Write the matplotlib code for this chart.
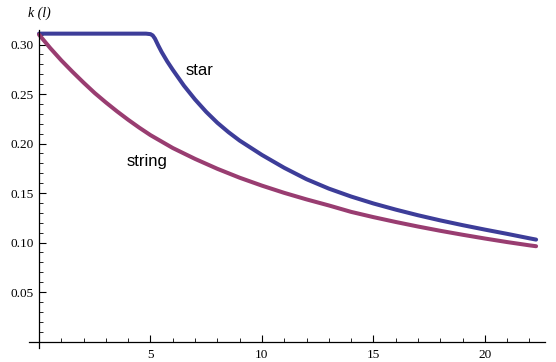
import numpy as np
import matplotlib.pyplot as plt
from matplotlib.ticker import FixedLocator

# valores (l, k)
l_star = [0, 1, 2, 3, 4, 4.8, 5.0, 5.1, 5.2, 5.35, 5.5, 5.75, 6.0, 6.5, 7.0, 7.5, 8.0,
          8.5, 9.0, 10.0, 11.0, 12.0, 13.0, 14.0, 15.0, 16.0, 17.0, 18.0, 19.0, 20.0,
          21.0, 22.0, 22.3]
k_star = [0.311, 0.311, 0.311, 0.311, 0.311, 0.311, 0.3105, 0.3092, 0.306, 0.299, 0.2925,
          0.283, 0.2745, 0.2585, 0.2445, 0.2320, 0.2210, 0.2115, 0.2030, 0.1885, 0.1755,
          0.1640, 0.1545, 0.1465, 0.1395, 0.1333, 0.1276, 0.1224, 0.1176, 0.1131, 0.1088,
          0.1043, 0.1030]

l_string = [0, 0.5, 1, 1.5, 2, 2.5, 3, 3.5, 4, 4.5, 5, 6, 7, 8, 9, 10, 11, 12, 13, 14,
            15, 16, 17, 18, 19, 20, 21, 22, 22.3]
k_string = [0.310, 0.2965, 0.284, 0.2725, 0.2615, 0.251, 0.2415, 0.2325, 0.224, 0.216,
            0.2085, 0.1955, 0.1845, 0.1745, 0.1655, 0.1575, 0.1502, 0.1436, 0.1375, 0.1310,
            0.1257, 0.1208, 0.1162, 0.1119, 0.1079, 0.1041, 0.1005, 0.0972, 0.0963]

c_star = "#3d3d99"
c_string = "#993d71"

fig = plt.figure(figsize=(5.56, 3.62), dpi=100)
ax = fig.add_axes([29/556, 0.040, (545-29)/556, 0.878])

ax.plot(l_star, k_star, color=c_star, lw=2.9, solid_capstyle="round", solid_joinstyle="round")
ax.plot(l_string, k_string, color=c_string, lw=2.9, solid_capstyle="round", solid_joinstyle="round")

ax.set_xlim(-0.45, 22.7)
ax.set_ylim(-0.006, 0.315)

# eixos estilo Mathematica, cruzando na origem
ax.spines["left"].set_position(("data", 0))
ax.spines["bottom"].set_position(("data", 0))
ax.spines["top"].set_visible(False)
ax.spines["right"].set_visible(False)
for s in ["left", "bottom"]:
    ax.spines[s].set_linewidth(0.9)

ax.xaxis.set_major_locator(FixedLocator([5, 10, 15, 20]))
ax.xaxis.set_minor_locator(FixedLocator([i for i in range(1, 23) if i % 5]))
ax.yaxis.set_major_locator(FixedLocator([0.05, 0.10, 0.15, 0.20, 0.25, 0.30]))
ax.yaxis.set_minor_locator(FixedLocator([i / 100 for i in range(1, 32) if i % 5]))
ax.set_yticklabels(["0.05", "0.10", "0.15", "0.20", "0.25", "0.30"])

ax.tick_params(which="major", direction="in", length=5, width=0.8,
               labelsize=9.5, labelfontfamily="Liberation Serif", pad=4)
ax.tick_params(which="minor", direction="in", length=2.8, width=0.6)
ax.tick_params(axis="x", pad=5)

ax.text(7.2, 0.274, "star", fontsize=12, family="Liberation Sans", ha="center", va="center")
ax.text(4.85, 0.182, "string", fontsize=12, family="Liberation Sans", ha="center", va="center")

fig.text(39/556, 1 - 13/362, "k (l)", fontsize=10, family="Liberation Serif",
         style="italic", ha="center", va="center")

fig.savefig("out.png", dpi=100)
